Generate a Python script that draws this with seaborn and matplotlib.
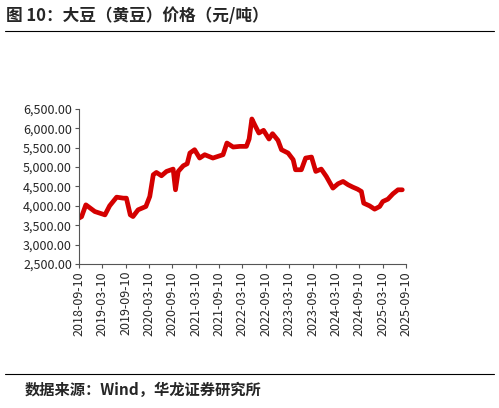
import matplotlib
matplotlib.use("Agg")
import matplotlib.pyplot as plt
import matplotlib.dates as mdates
from matplotlib.ticker import FuncFormatter
import seaborn as sns
import pandas as pd
import numpy as np

sns.set_style("white")
plt.rcParams['font.family'] = ['Noto Sans CJK SC', 'DejaVu Sans']

month_offsets = [0, 0.7, 1.8, 4.1, 6.7, 7.9, 9.7, 11.4, 12.2, 13.2, 13.9, 15.2, 17.2, 18.2, 19.1, 19.9,
                 21.2, 22.5, 24.2, 24.8, 25.5, 26.8, 27.8, 28.5, 29.7, 31.0, 32.3, 34.4, 35.7, 37.0,
                 38.0, 39.6, 41.3, 43.0, 43.7, 44.4, 45.1, 46.2, 47.4, 48.8, 49.7, 51.1, 52.0, 53.7,
                 55.0, 55.6, 57.1, 58.2, 59.7, 60.8, 62.2, 63.5, 65.2, 66.5, 67.8, 69.1, 70.3, 71.5,
                 72.5, 73.1, 74.6, 75.9, 77.2, 78.0, 79.3, 80.6, 81.9, 83.0]
prices = [3681, 3720, 4026, 3853, 3767, 4000, 4224, 4198, 4198, 3767, 3724, 3897, 3983, 4241, 4802, 4862,
          4776, 4888, 4948, 4414, 4888, 5034, 5086, 5362, 5448, 5233, 5319, 5233, 5276, 5319,
          5621, 5517, 5534, 5534, 5724, 6241, 6095, 5879, 5948, 5724, 5862, 5690, 5448, 5362,
          5190, 4931, 4931, 5233, 5259, 4888, 4948, 4759, 4457, 4569, 4629, 4543, 4483, 4431,
          4371, 4069, 4000, 3914, 3983, 4112, 4172, 4310, 4414, 4414]

start = pd.Timestamp("2018-09-10")
dates = [start + pd.Timedelta(days=m * 30.44) for m in month_offsets]
df = pd.DataFrame({"date": dates, "price": prices})

fig = plt.figure(figsize=(4.99, 4.08), dpi=100)
ax = fig.add_axes([0.158, 0.353, 0.656, 0.38])
sns.lineplot(data=df, x="date", y="price", ax=ax, color="#d40000", linewidth=3.4)

ax.set_ylim(2500, 6500)
ax.set_yticks(np.arange(2500, 6501, 500))
ax.yaxis.set_major_formatter(FuncFormatter(lambda v, p: f"{v:,.2f}"))
ticks = [start + pd.DateOffset(months=6 * i) for i in range(15)]
ax.set_xlim(start, pd.Timestamp("2025-09-10"))
ax.set_xticks(ticks)
ax.xaxis.set_major_formatter(mdates.DateFormatter("%Y-%m-%d"))
plt.setp(ax.get_xticklabels(), rotation=90)
ax.tick_params(axis='both', labelsize=9, direction='out', length=3, width=0.8, color='#555555',
               left=True, bottom=True, pad=2)
ax.set_xlabel("")
ax.set_ylabel("")
for s in ["top", "right"]:
    ax.spines[s].set_visible(False)
for s in ["left", "bottom"]:
    ax.spines[s].set_color("#555555")
    ax.spines[s].set_linewidth(0.8)

fig.text(0.012, 0.962, "图 10：大豆（黄豆）价格（元/吨）", fontsize=12, fontweight='bold', va='center')
fig.add_artist(plt.Line2D([0.01, 0.99], [0.925, 0.925], color='black', linewidth=0.8))
fig.add_artist(plt.Line2D([0.01, 0.99], [0.083, 0.083], color='black', linewidth=0.8))
fig.text(0.05, 0.045, "数据来源：Wind，华龙证券研究所", fontsize=11, fontweight='bold', va='center')

fig.savefig("out.png", dpi=100)
